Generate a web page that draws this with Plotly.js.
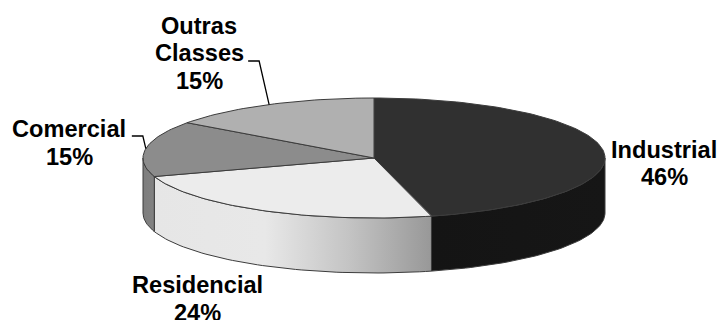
<!DOCTYPE html>
<html>
<head>
<meta charset="utf-8">
<script src="https://cdn.plot.ly/plotly-3.0.1.min.js"></script>
<style>html,body{margin:0;padding:0;background:#fff}#chart{width:720px;height:320px}</style>
</head>
<body>
<div id="chart"></div>
<script>
// Consumption share by class, clockwise from twelve o'clock
const categories = ['Industrial', 'Residencial', 'Comercial', 'Outras Classes'];
const shares = [46, 24, 15, 15];
const topColors = ['#303030', '#ececec', '#8c8c8c', '#b0b0b0'];
const wallScales = [
  [[0, '#141414'], [1, '#161616']],
  [[0, '#e6e6e6'], [0.4, '#e8e8e8'], [0.7, '#c4c4c4'], [1, '#989898']],
  [[0, '#7e7e7e'], [1, '#828282']],
  [[0, '#8a8a8a'], [1, '#8a8a8a']]
];

// Disc geometry in plot units (the axes run 1:1 with the page)
const cx = 374, cy = 158, rx = 231, ry = 60, depth = 55;
const edge = '#3c3c3c';

const rad = d => d * Math.PI / 180;
const rimX = a => cx + rx * Math.sin(rad(a));
const rimY = (a, drop = 0) => cy - ry * Math.cos(rad(a)) + drop;
function arc(a0, a1) {
  const n = Math.max(2, Math.ceil(Math.abs(a1 - a0) / 1.5));
  const out = [];
  for (let i = 0; i <= n; i++) out.push(a0 + (a1 - a0) * i / n);
  return out;
}

const total = shares.reduce((s, v) => s + v, 0);
let running = 0;
const slices = shares.map(v => {
  const start = running / total * 360;
  running += v;
  return { start, end: running / total * 360 };
});

const walls = [], tops = [];
slices.forEach((s, i) => {
  // only the part of the rim facing the viewer gets a side wall
  const a0 = Math.max(s.start, 90), a1 = Math.min(s.end, 270);
  if (a1 > a0) {
    const fwd = arc(a0, a1), back = fwd.slice().reverse();
    walls.push({
      type: 'scatter', mode: 'lines', hoverinfo: 'skip', showlegend: false,
      x: fwd.map(rimX).concat(back.map(rimX), [rimX(a0)]),
      y: fwd.map(a => rimY(a)).concat(back.map(a => rimY(a, depth)), [rimY(a0)]),
      fill: 'toself',
      fillgradient: { type: 'horizontal', colorscale: wallScales[i] },
      line: { color: edge, width: 1 }
    });
  }
  const rim = arc(s.start, s.end);
  tops.push({
    type: 'scatter', mode: 'lines', hoverinfo: 'skip', showlegend: false,
    x: [cx].concat(rim.map(rimX), [cx]),
    y: [cy].concat(rim.map(a => rimY(a)), [cy]),
    fill: 'toself', fillcolor: topColors[i],
    line: { color: edge, width: 1 }
  });
});

// Leader lines start at the rim, at the middle of their slice
function leader(i, kneeDx, kneeY, endDx) {
  const mid = (slices[i].start + slices[i].end) / 2;
  const x0 = rimX(mid), y0 = rimY(mid);
  return {
    type: 'scatter', mode: 'lines', hoverinfo: 'skip', showlegend: false,
    x: [x0, x0 + kneeDx, x0 + kneeDx + endDx],
    y: [y0, kneeY, kneeY],
    line: { color: '#000', width: 1.3 }
  };
}
const leaders = [leader(2, -3, 136, -11), leader(3, -10, 61, -11)];

// Text lines sit apart by hand: label rows are tighter than the default line height
const pct = i => shares[i] + '%';
const labelRows = [
  ['Outras', 199, 26], ['Classes', 199, 53], [pct(3), 199, 81],
  [categories[2], 69, 129], [pct(2), 69, 157],
  [categories[0], 664, 150], [pct(0), 664, 177],
  [categories[1], 197, 285], [pct(1), 197, 313]
];
const annotations = labelRows.map(([text, x, y]) => ({
  text: '<b>' + text + '</b>', x, y, xref: 'x', yref: 'y', showarrow: false,
  xanchor: 'center', yanchor: 'middle',
  font: { family: '"Liberation Sans", Arial, sans-serif', size: 23.6, color: '#000' }
}));

const axis = { visible: false, fixedrange: true };
Plotly.newPlot('chart', walls.concat(tops, leaders), {
  width: 720, height: 320,
  margin: { l: 0, r: 0, t: 0, b: 0 },
  paper_bgcolor: '#fff', plot_bgcolor: '#fff',
  xaxis: Object.assign({ range: [0, 720] }, axis),
  yaxis: Object.assign({ range: [320, 0] }, axis),
  annotations
}, { displayModeBar: false, staticPlot: true });
</script>
</body>
</html>
